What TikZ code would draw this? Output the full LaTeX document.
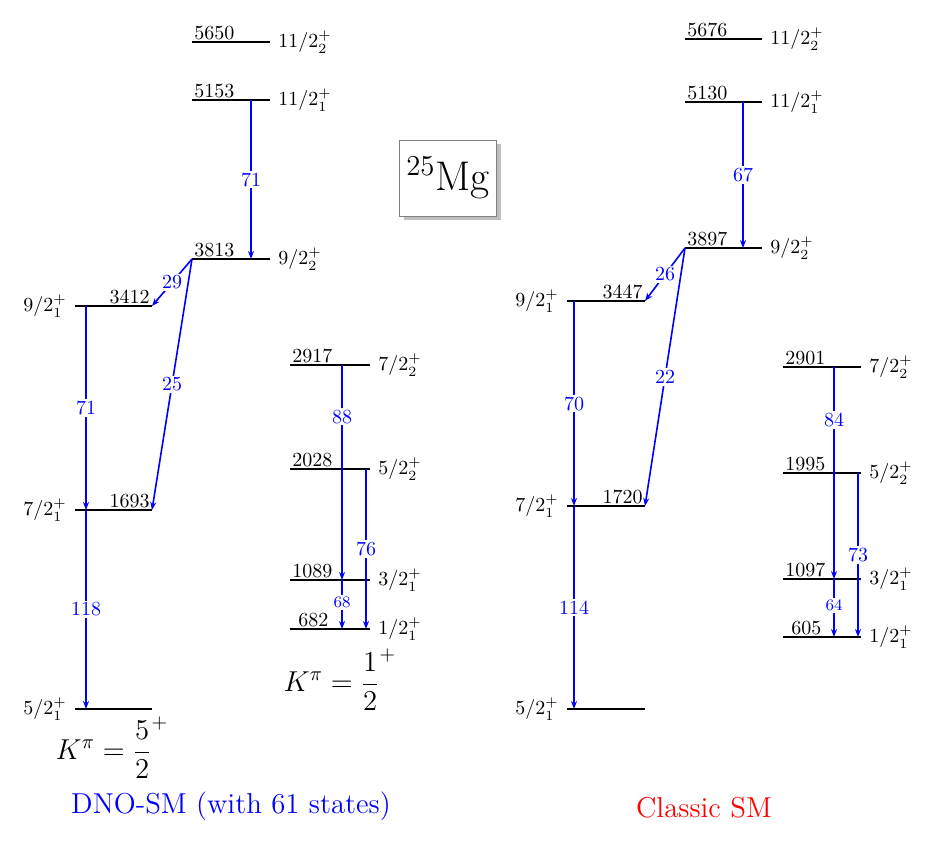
\documentclass[tikz,border=0pt]{standalone}
\usetikzlibrary{shadows,arrows.meta}
\begin{document}
\begin{tikzpicture}[x=0.5pt,y=-0.5pt,
  lvl/.style={line width=0.9pt},
  tr/.style={blue,thick,-{Stealth[length=4pt,width=3pt]}},
  tl/.style={blue,fill=white,inner sep=1pt,font=\normalsize},
  tls/.style={blue,fill=white,inner sep=1pt,font=\footnotesize},
  en/.style={anchor=south west,inner sep=1pt},
  jp/.style={anchor=west,inner sep=4pt},
  jl/.style={anchor=east,inner sep=4pt}]
\useasboundingbox (0,0) rectangle (936,845);
% ---- left scheme
\foreach \n/\a/\b/\y in {La/192/270/42,Lb/192/270/100,Lc/192/270/259,Ld/75/152/306,Le/75/152/510,Lf/75/152/709,Lg/290/370/365,Lh/290/370/469,Li/290/370/580,Lj/290/370/629}{
  \coordinate (\n1) at (\a,\y); \coordinate (\n2) at (\b,\y);
  \draw[lvl] (\n1)--(\n2);}
\node[en] at (La1) {5650}; \node[jp] at (La2) {$11/2_2^+$};
\node[en] at (Lb1) {5153}; \node[jp] at (Lb2) {$11/2_1^+$};
\node[en] at (Lc1) {3813}; \node[jp] at (Lc2) {$9/2_2^+$};
\node[en,anchor=south east] at (Ld2) {3412}; \node[jl] at (Ld1) {$9/2_1^+$};
\node[en,anchor=south east] at (Le2) {1693}; \node[jl] at (Le1) {$7/2_1^+$};
\node[jl] at (Lf1) {$5/2_1^+$};
\node[en] at (Lg1) {2917}; \node[jp] at (Lg2) {$7/2_2^+$};
\node[en] at (Lh1) {2028}; \node[jp] at (Lh2) {$5/2_2^+$};
\node[en] at (Li1) {1089}; \node[jp] at (Li2) {$3/2_1^+$};
\node[en,xshift=3pt] at (Lj1) {682}; \node[jp] at (Lj2) {$1/2_1^+$};
\coordinate (A1) at (251,100); \coordinate (A2) at (251,259);
\draw[tr] (A1)--(A2) node[tl,midway] {71};
\draw[tr] (Lc1)--(Ld2) node[tl,midway] {29};
\draw[tr] (Lc1)--(Le2) node[tl,midway] {25};
\coordinate (B1) at (86,306); \coordinate (B2) at (86,510); \coordinate (B3) at (86,709);
\draw[tr] (B1)--(B2) node[tl,midway] {71};
\draw[tr] (B2)--(B3) node[tl,midway] {118};
\coordinate (C1) at (342,365); \coordinate (C2) at (342,580); \coordinate (C3) at (342,629);
\coordinate (D1) at (366,469); \coordinate (D2) at (366,629);
\draw[tr] (C1)--(C2) node[tl,pos=0.24] {88};
\draw[tr] (D1)--(D2) node[tl,pos=0.5] {76};
\draw[tr] (C2)--(C3) node[tls,pos=0.45] {68};
% ---- right scheme
\foreach \n/\a/\b/\y in {Ra/685/762/39,Rb/685/762/102,Rc/685/762/248,Rd/567/645/301,Re/567/645/506,Rf/567/645/709,Rg/783/861/367,Rh/783/861/473,Ri/783/861/579,Rj/783/861/637}{
  \coordinate (\n1) at (\a,\y); \coordinate (\n2) at (\b,\y);
  \draw[lvl] (\n1)--(\n2);}
\node[en] at (Ra1) {5676}; \node[jp] at (Ra2) {$11/2_2^+$};
\node[en] at (Rb1) {5130}; \node[jp] at (Rb2) {$11/2_1^+$};
\node[en] at (Rc1) {3897}; \node[jp] at (Rc2) {$9/2_2^+$};
\node[en,anchor=south east] at (Rd2) {3447}; \node[jl] at (Rd1) {$9/2_1^+$};
\node[en,anchor=south east] at (Re2) {1720}; \node[jl] at (Re1) {$7/2_1^+$};
\node[jl] at (Rf1) {$5/2_1^+$};
\node[en] at (Rg1) {2901}; \node[jp] at (Rg2) {$7/2_2^+$};
\node[en] at (Rh1) {1995}; \node[jp] at (Rh2) {$5/2_2^+$};
\node[en] at (Ri1) {1097}; \node[jp] at (Ri2) {$3/2_1^+$};
\node[en,xshift=3pt] at (Rj1) {605}; \node[jp] at (Rj2) {$1/2_1^+$};
\coordinate (E1) at (743,102); \coordinate (E2) at (743,248);
\draw[tr] (E1)--(E2) node[tl,midway] {67};
\draw[tr] (Rc1)--(Rd2) node[tl,midway] {26};
\draw[tr] (Rc1)--(Re2) node[tl,midway] {22};
\coordinate (F1) at (574,301); \coordinate (F2) at (574,506); \coordinate (F3) at (574,709);
\draw[tr] (F1)--(F2) node[tl,midway] {70};
\draw[tr] (F2)--(F3) node[tl,midway] {114};
\coordinate (G1) at (834,367); \coordinate (G2) at (834,579); \coordinate (G3) at (834,637);
\coordinate (H1) at (858,473); \coordinate (H2) at (858,637);
\draw[tr] (G1)--(G2) node[tl,pos=0.25] {84};
\draw[tr] (H1)--(H2) node[tl,pos=0.5] {73};
\draw[tr] (G2)--(G3) node[tls,pos=0.45] {64};
% ---- titles
\node[draw=gray,fill=white,drop shadow,minimum width=43pt,minimum height=38pt,font=\huge] (mg) at (448,178) {$^{25}$Mg};
\node[font=\Large] (k1) at (340,680) {$K^\pi=\displaystyle\frac{1}{2}^+$};
\node[font=\Large] (k2) at (112,748) {$K^\pi=\displaystyle\frac{5}{2}^+$};
\node[blue,font=\Large] (t1) at (231,806) {DNO-SM (with 61 states)};
\node[red,font=\Large] (t2) at (704,808) {Classic SM};
\end{tikzpicture}
\end{document}
